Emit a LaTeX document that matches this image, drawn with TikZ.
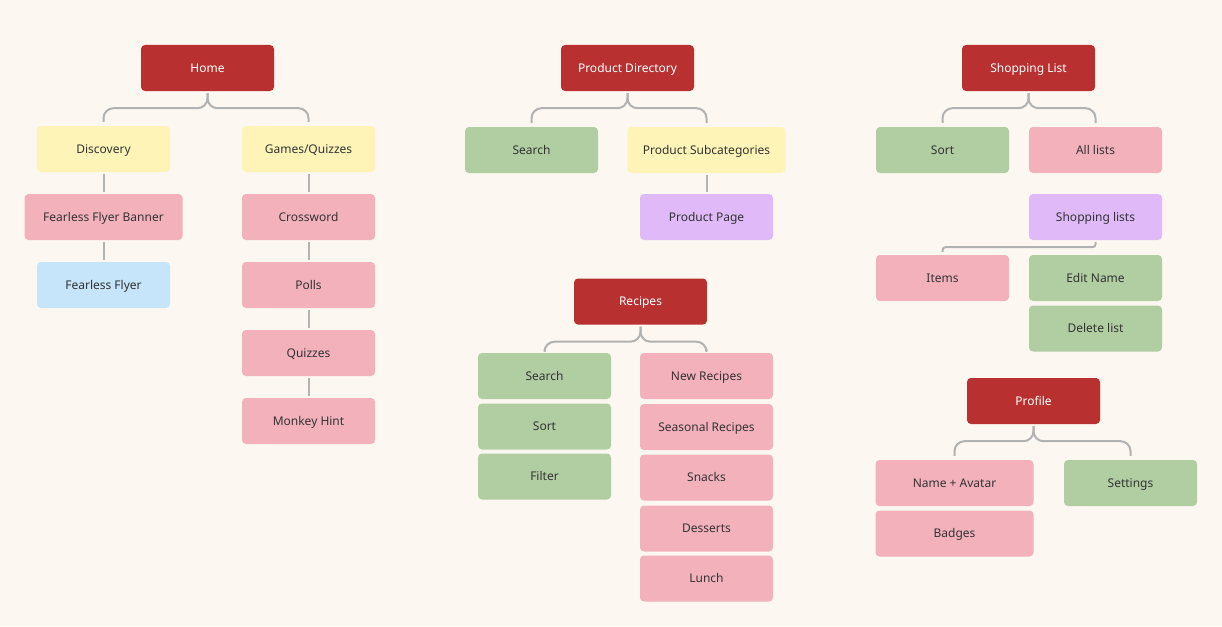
\documentclass[tikz,border=0pt]{standalone}
\usepackage{fontspec}
\setmainfont{Noto Sans}
\usepackage{tikz}
\usetikzlibrary{positioning}
\usetikzlibrary{calc}

\definecolor{bgpaper}{RGB}{252,247,241}
\definecolor{boxred}{RGB}{184,48,48}
\definecolor{boxyellow}{RGB}{254,244,184}
\definecolor{boxpink}{RGB}{243,177,188}
\definecolor{boxgreen}{RGB}{177,206,162}
\definecolor{boxblue}{RGB}{198,228,250}
\definecolor{boxpurple}{RGB}{224,186,248}
\definecolor{linkgray}{RGB}{178,178,178}
\definecolor{inkgray}{RGB}{51,51,51}

\begin{document}
\begin{tikzpicture}[x=1pt,y=1pt,
    box/.style={rectangle,rounded corners=4pt,minimum width=133pt,minimum height=46pt,
        inner sep=0pt,text height=9pt,text depth=1pt,text=inkgray,
        font=\fontsize{12}{14}\selectfont},
    wide/.style={minimum width=158pt},
    redbox/.style={box,fill=boxred,text=white},
    yellowbox/.style={box,fill=boxyellow},
    pinkbox/.style={box,fill=boxpink},
    greenbox/.style={box,fill=boxgreen},
    bluebox/.style={box,fill=boxblue},
    purplebox/.style={box,fill=boxpurple},
    link/.style={draw=linkgray,line width=2pt},
    brace/.style={link,rounded corners=10pt}]
       \fill[bgpaper] (0,0) rectangle (1222,-626);
       \useasboundingbox (0,0) rectangle (1222,-626);
       % home column
       \node[redbox] (home) at (207.5,-68) {Home};
       \node[yellowbox] (disc) at (103.5,-149) {Discovery};
       \node[yellowbox] (games) at (308.5,-149) {Games/Quizzes};
       \node[pinkbox,wide] (ffbanner) at (103.5,-217) {Fearless Flyer Banner};
       \node[bluebox] (ffly) at (103.5,-285) {Fearless Flyer};
       \node[pinkbox] (cross) at (308.5,-217) {Crossword};
       \node[pinkbox] (polls) at (308.5,-285) {Polls};
       \node[pinkbox] (quiz) at (308.5,-353) {Quizzes};
       \node[pinkbox] (monkey) at (308.5,-421) {Monkey Hint};
       % product directory
       \node[redbox] (prodir) at (627.5,-68) {Product Directory};
       \node[greenbox] (psearch) at (531.5,-150) {Search};
       \node[yellowbox,wide] (psubcat) at (706.5,-150) {Product Subcategories};
       \node[purplebox] (ppage) at (706.5,-217) {Product Page};
       % recipes
       \node[redbox] (recipes) at (640.5,-301.5) {Recipes};
       \node[greenbox] (rsearch) at (544.5,-376) {Search};
       \node[greenbox] (rsort) at (544.5,-426.5) {Sort};
       \node[greenbox] (rfilter) at (544.5,-476.5) {Filter};
       \node[pinkbox] (rnew) at (706.5,-376) {New Recipes};
       \node[pinkbox] (rseason) at (706.5,-427) {Seasonal Recipes};
       \node[pinkbox] (rsnack) at (706.5,-477.5) {Snacks};
       \node[pinkbox] (rdessert) at (706.5,-528.5) {Desserts};
       \node[pinkbox] (rlunch) at (706.5,-578.5) {Lunch};
       % shopping list
       \node[redbox] (shoplist) at (1028.5,-68) {Shopping List};
       \node[greenbox] (ssort) at (942.5,-150) {Sort};
       \node[pinkbox] (alllists) at (1095.5,-150) {All lists};
       \node[purplebox] (shoplists) at (1095.5,-217) {Shopping lists};
       \node[pinkbox] (items) at (942.5,-278) {Items};
       \node[greenbox] (editname) at (1095.5,-278) {Edit Name};
       \node[greenbox] (dellist) at (1095.5,-328.5) {Delete list};
       % profile
       \node[redbox] (profile) at (1033.5,-401) {Profile};
       \node[pinkbox,wide] (avatar) at (954.5,-483) {Name + Avatar};
       \node[pinkbox,wide] (badges) at (954.5,-533.5) {Badges};
       \node[greenbox] (settings) at (1130.5,-483) {Settings};
       % braces
       \foreach \p/\c in {home/disc,home/games,prodir/psearch,prodir/psubcat,
                          recipes/rsearch,recipes/rnew,shoplist/ssort,shoplist/alllists,
                          profile/avatar,profile/settings}
           \draw[brace] ([yshift=-2pt]\p.south) -- ++(0,-15) -| ([yshift=4pt]\c.north);
       % straight links
       \foreach \a/\b in {disc/ffbanner,ffbanner/ffly,games/cross,cross/polls,
                          polls/quiz,quiz/monkey,psubcat/ppage}
           \draw[link] ([yshift=-2pt]\a.south) -- ([yshift=2pt]\b.north);
       \draw[link,rounded corners=3pt] ([yshift=-2pt]shoplists.south) -- ++(0,-5) -| ([yshift=3pt]items.north);
\end{tikzpicture}
\end{document}
